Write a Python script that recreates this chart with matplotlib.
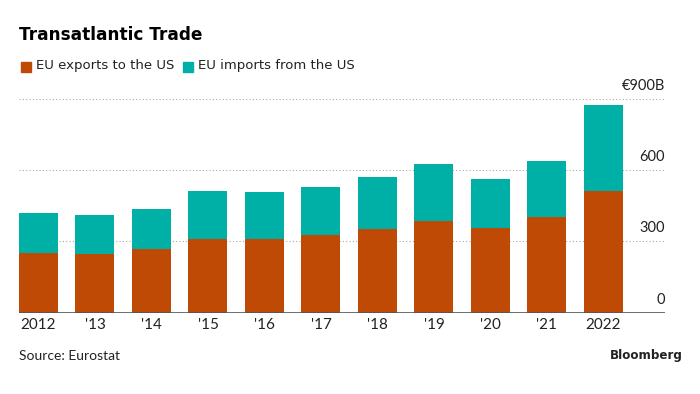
import numpy as np
import matplotlib.pyplot as plt
from matplotlib.patches import Rectangle

# data (EUR billions)
years = ['2012', "'13", "'14", "'15", "'16", "'17", "'18", "'19", "'20", "'21", '2022']
exports_us = [249, 247, 266, 311, 310, 325, 354, 387, 355, 403, 511]
imports_us = [171, 166, 172, 202, 197, 206, 216, 237, 206, 235, 363]
y_ticks = [0, 300, 600, 900]
y_labels = ['0', '300', '600', '€900B']

col_exp = '#BF4A06'
col_imp = '#00AFA5'
txt = '#222222'

fig = plt.figure(figsize=(7, 3.94), dpi=100)
ax = fig.add_axes([19/700, 1-312.5/394, (665-19)/700, (312.5-99)/394])

x = np.arange(len(years))
ax.bar(x, exports_us, width=0.69, color=col_exp, zorder=2)
ax.bar(x, imports_us, bottom=exports_us, width=0.69, color=col_imp, zorder=2)

ax.set_xlim(-0.345, 11.09)
ax.set_ylim(0, 900)

# dotted grid + labels on the right, inside the plot
for v, lab in zip(y_ticks, y_labels):
    if v > 0:
        ax.axhline(v, color='#aaaaaa', linestyle=(0, (1, 2)), linewidth=0.8, zorder=1)
    ax.text(1.0, v + 25, lab, transform=ax.get_yaxis_transform(), ha='right', va='bottom',
            fontsize=10.5, color=txt, family='Lato', clip_on=False)
ax.axhline(0, color='#555555', linewidth=1.2, zorder=3)

for s in ax.spines.values():
    s.set_visible(False)
ax.set_yticks([])
ax.set_xticks(x)
ax.set_xticklabels(years, fontsize=11, color=txt, family='Lato')
ax.tick_params(axis='x', length=0, pad=4)

# title and legend
fig.text(19/700, 1-35/394, 'Transatlantic Trade', fontsize=12.2, fontweight='heavy',
         color='black', va='center', family='DejaVu Sans')
fig.patches.append(Rectangle((21/700, 1-72/394), 10/700, 10/394, transform=fig.transFigure,
                             color=col_exp, figure=fig))
fig.text(36/700, 1-66/394, 'EU exports to the US', fontsize=9.5, color=txt, va='center',
         family='DejaVu Sans')
fig.patches.append(Rectangle((183/700, 1-72/394), 10/700, 10/394, transform=fig.transFigure,
                             color=col_imp, figure=fig))
fig.text(198/700, 1-66/394, 'EU imports from the US', fontsize=9.5, color=txt, va='center',
         family='DejaVu Sans')

fig.text(19/700, 1-356/394, 'Source: Eurostat', fontsize=10, color=txt, va='center', family='Lato')
fig.text(683/700, 1-356/394, 'Bloomberg', fontsize=8.6, fontweight='bold', color=txt,
         va='center', ha='right', family='DejaVu Sans')

fig.savefig('out.png', dpi=100)
